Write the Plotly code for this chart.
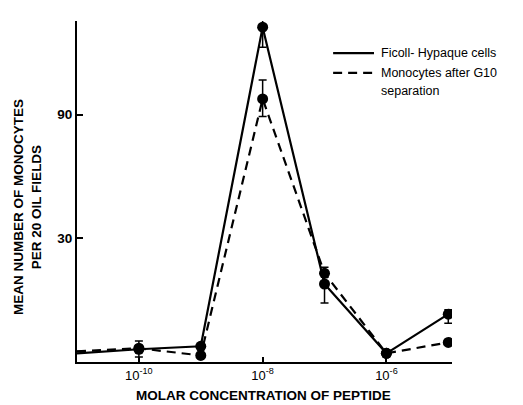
import plotly.graph_objects as go

# log10 of molar concentration
conc_exp = [-11, -10, -9, -8, -7, -6, -5]
conc = [10.0 ** e for e in conc_exp]

ficoll = [10.8, 11.2, 11.5, 196, 20.0, 10.8, 15.3]
ficoll_err_up = [0, 0.85, 0, 34, 3.2, 0, 0.6]
ficoll_err_dn = [0, 0.75, 0, 32, 3.1, 0, 1.2]

g10 = [11.0, 11.3, 10.6, 103.6, 22.0, 10.8, 11.9]
g10_err_up = [0, 0, 0, 19, 0, 0, 0]
g10_err_dn = [0, 0, 0, 15, 0, 0, 0]

marker_sizes = [0, 11, 11, 11, 11, 11, 11]

y_ticks = [30, 90]
x_ticks = [1e-10, 1e-8, 1e-6]
x_ticktext = ["10<sup>-10</sup>", "10<sup>-8</sup>", "10<sup>-6</sup>"]

FONT = "Liberation Sans, Arial, sans-serif"

fig = go.Figure()
fig.add_trace(go.Scatter(
    x=conc, y=g10, mode="lines+markers",
    line=dict(color="black", width=2.2, dash="9px,6px"),
    marker=dict(color="black", size=marker_sizes, opacity=1, line=dict(width=0)),
    error_y=dict(type="data", symmetric=False, array=g10_err_up, arrayminus=g10_err_dn,
                 color="black", thickness=1.5, width=4),
    showlegend=False,
))
fig.add_trace(go.Scatter(
    x=conc, y=ficoll, mode="lines+markers",
    line=dict(color="black", width=2.2),
    marker=dict(color="black", size=marker_sizes, opacity=1, line=dict(width=0)),
    error_y=dict(type="data", symmetric=False, array=ficoll_err_up, arrayminus=ficoll_err_dn,
                 color="black", thickness=1.5, width=4),
    showlegend=False,
))

# manual legend
fig.add_shape(type="line", xref="paper", yref="paper", x0=0.683, x1=0.792, y0=0.906, y1=0.906,
              line=dict(color="black", width=2.2))
fig.add_shape(type="line", xref="paper", yref="paper", x0=0.683, x1=0.792, y0=0.848, y1=0.848,
              line=dict(color="black", width=2.2, dash="9px,6px"))
legend_font = dict(family=FONT, size=12.5, color="black")
fig.add_annotation(xref="paper", yref="paper", x=0.805, y=0.906, xanchor="left", yanchor="middle",
                   text="Ficoll- Hypaque cells", showarrow=False, font=legend_font)
fig.add_annotation(xref="paper", yref="paper", x=0.805, y=0.848, xanchor="left", yanchor="middle",
                   text="Monocytes after G10", showarrow=False, font=legend_font)
fig.add_annotation(xref="paper", yref="paper", x=0.805, y=0.795, xanchor="left", yanchor="middle",
                   text="separation", showarrow=False, font=legend_font)

# axis titles
fig.add_annotation(xref="paper", yref="paper", x=(263 - 77) / 375, y=(362 - 396) / 341,
                   xanchor="center", yanchor="middle", showarrow=False,
                   text="<b>MOLAR CONCENTRATION OF PEPTIDE</b>",
                   font=dict(family=FONT, size=13.5, color="black"))
fig.add_annotation(xref="paper", yref="paper", x=(27 - 77) / 375, y=(362 - 207) / 341,
                   xanchor="center", yanchor="middle", showarrow=False, textangle=-90,
                   text="<b>MEAN NUMBER OF MONOCYTES<br>PER 20 OIL FIELDS</b>",
                   font=dict(family=FONT, size=13.5, color="black"))

# page body has an 8px margin, so the figure is sized/offset to land on the 523x405 frame
fig.update_layout(
    width=515, height=397,
    margin=dict(l=69, r=71, t=13, b=43),
    paper_bgcolor="white", plot_bgcolor="white",
    font=dict(family=FONT, size=12, color="black"),
)
fig.update_xaxes(
    type="log", range=[-11, -4.94],
    tickvals=x_ticks, ticktext=x_ticktext,
    ticks="inside", ticklen=5, tickwidth=1.5, tickcolor="black",
    showline=True, linecolor="black", linewidth=1.8,
    showgrid=False, zeroline=False,
    tickfont=dict(family=FONT, size=13, color="black"),
)
fig.update_yaxes(
    type="log", range=[1.0, 2.316],
    tickvals=y_ticks, ticktext=[f"<b>{v}</b>" for v in y_ticks],
    ticks="inside", ticklen=6, tickwidth=1.5, tickcolor="black",
    showline=True, linecolor="black", linewidth=1.8,
    showgrid=False, zeroline=False,
    tickfont=dict(family=FONT, size=13.5, color="black"),
)

fig.write_html("out.html")
